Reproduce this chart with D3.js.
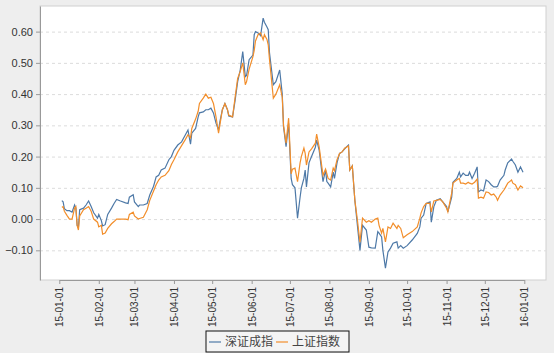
<!DOCTYPE html>
<html lang="zh-CN">
<head>
    <meta charset="UTF-8">
    <title>深证成指 / 上证指数</title>
    <style>
        body {
            margin: 0;
            padding: 0;
            background-color: #eeeeee;
            font-family: 'Liberation Sans', Arial, sans-serif;
        }
        svg { display: block; }
        .grid line { stroke: #dcdcdc; stroke-dasharray: 3,3; }
        .grid .domain { display: none; }
        .axis text { fill: #333; }
        .axis line, .axis path { stroke: #999; }
    </style>
</head>
<body>
    <svg width="554" height="353"></svg>

    <script src="https://d3js.org/d3.v7.min.js"></script>
    <script>
        // 日期
        const dates = [
            "2015-01-03","2015-01-04","2015-01-05","2015-01-07","2015-01-09","2015-01-11","2015-01-13","2015-01-14","2015-01-15","2015-01-16",
            "2015-01-17","2015-01-20","2015-01-22","2015-01-24","2015-01-26","2015-01-28","2015-01-31","2015-02-01","2015-02-03","2015-02-04",
            "2015-02-06","2015-02-08","2015-02-11","2015-02-13","2015-02-15","2015-02-18","2015-02-22","2015-02-24","2015-02-25","2015-02-28",
            "2015-03-01","2015-03-04","2015-03-05","2015-03-08","2015-03-11","2015-03-13","2015-03-16","2015-03-18","2015-03-20","2015-03-22",
            "2015-03-25","2015-03-28","2015-03-30","2015-04-01","2015-04-04","2015-04-07","2015-04-10","2015-04-12","2015-04-14","2015-04-15",
            "2015-04-18","2015-04-20","2015-04-21","2015-04-24","2015-04-26","2015-04-28","2015-04-30","2015-05-02","2015-05-04","2015-05-06",
            "2015-05-07","2015-05-09","2015-05-11","2015-05-13","2015-05-14","2015-05-17","2015-05-19","2015-05-21","2015-05-23","2015-05-25",
            "2015-05-27","2015-05-28","2015-05-30","2015-06-02","2015-06-03","2015-06-04","2015-06-06","2015-06-08","2015-06-10","2015-06-11",
            "2015-06-13","2015-06-14","2015-06-15","2015-06-18","2015-06-20","2015-06-23","2015-06-25","2015-06-26","2015-06-28","2015-06-30",
            "2015-07-02","2015-07-03","2015-07-05","2015-07-07","2015-07-09","2015-07-10","2015-07-12","2015-07-13","2015-07-14","2015-07-16",
            "2015-07-18","2015-07-21","2015-07-22","2015-07-24","2015-07-27","2015-07-29","2015-07-30","2015-07-31","2015-08-02","2015-08-04",
            "2015-08-05","2015-08-07","2015-08-09","2015-08-11","2015-08-13","2015-08-16","2015-08-17","2015-08-19","2015-08-21","2015-08-23",
            "2015-08-25","2015-08-27","2015-08-30","2015-09-01","2015-09-03","2015-09-06","2015-09-08","2015-09-09","2015-09-11","2015-09-12",
            "2015-09-14","2015-09-16","2015-09-18","2015-09-20","2015-09-23","2015-09-24","2015-09-26","2015-09-28","2015-10-01","2015-10-05",
            "2015-10-09","2015-10-11","2015-10-12","2015-10-14","2015-10-16","2015-10-19","2015-10-20","2015-10-22","2015-10-24","2015-10-27",
            "2015-10-29","2015-11-01","2015-11-02","2015-11-05","2015-11-06","2015-11-09","2015-11-11","2015-11-12","2015-11-14","2015-11-16",
            "2015-11-18","2015-11-19","2015-11-21","2015-11-23","2015-11-25","2015-11-26","2015-11-28","2015-11-30","2015-12-02","2015-12-04",
            "2015-12-06","2015-12-08","2015-12-10","2015-12-11","2015-12-13","2015-12-16","2015-12-17","2015-12-19","2015-12-22","2015-12-23",
            "2015-12-25","2015-12-27","2015-12-29","2015-12-31"
        ];

        // 深证成指
        const szValues = [
            0.059,0.055,0.033,0.027,0.027,0.022,0.045,0.035,-0.02,-0.028,
            0.03,0.035,0.045,0.058,0.04,0.02,0.003,0.015,-0.005,-0.022,
            -0.018,0.015,0.035,0.05,0.063,0.058,0.052,0.05,0.07,0.078,
            0.055,0.04,0.045,0.045,0.05,0.077,0.105,0.135,0.14,0.157,
            0.163,0.19,0.2,0.22,0.237,0.247,0.27,0.285,0.24,0.275,
            0.29,0.327,0.34,0.343,0.35,0.35,0.355,0.34,0.307,0.285,
            0.31,0.35,0.37,0.35,0.33,0.327,0.38,0.44,0.477,0.536,
            0.456,0.46,0.51,0.525,0.59,0.6,0.596,0.587,0.643,0.63,
            0.615,0.606,0.532,0.43,0.44,0.477,0.40,0.296,0.232,0.307,
            0.13,0.11,0.1,0.003,0.07,0.1,0.13,0.157,0.103,0.18,
            0.2,0.23,0.253,0.22,0.12,0.157,0.12,0.115,0.103,0.15,
            0.13,0.18,0.21,0.215,0.225,0.237,0.157,0.17,0.06,-0.02,
            -0.1,-0.02,-0.035,-0.09,-0.092,-0.093,-0.04,-0.045,-0.057,-0.1,
            -0.157,-0.105,-0.093,-0.077,-0.073,-0.093,-0.085,-0.093,-0.085,-0.067,
            -0.046,-0.025,0.003,0.013,0.05,0.055,-0.01,0.04,0.06,0.065,
            0.055,0.04,0.023,0.07,0.118,0.13,0.15,0.135,0.147,0.14,
            0.14,0.15,0.13,0.147,0.167,0.087,0.093,0.09,0.125,0.12,
            0.11,0.103,0.103,0.105,0.125,0.14,0.157,0.18,0.192,0.185,
            0.173,0.15,0.167,0.15
        ];

        // 上证指数
        const shValues = [
            0.038,0.04,0.025,0.012,0.0,0.0,0.035,0.04,-0.02,-0.035,
            0.01,0.03,0.035,0.04,0.025,0.0,-0.01,-0.025,-0.02,-0.048,
            -0.045,-0.03,-0.015,-0.008,0.0,0.0,0.0,-0.002,0.015,0.022,
            0.01,0.0,0.002,0.006,0.03,0.06,0.09,0.11,0.125,0.135,
            0.14,0.155,0.175,0.19,0.215,0.235,0.255,0.27,0.26,0.29,
            0.32,0.345,0.37,0.387,0.4,0.387,0.39,0.37,0.327,0.275,
            0.3,0.35,0.37,0.35,0.333,0.327,0.39,0.45,0.472,0.5,
            0.43,0.44,0.48,0.52,0.54,0.57,0.59,0.596,0.574,0.59,
            0.575,0.558,0.51,0.387,0.40,0.43,0.39,0.30,0.243,0.323,
            0.145,0.16,0.163,0.12,0.18,0.2,0.227,0.21,0.173,0.215,
            0.225,0.243,0.272,0.23,0.14,0.16,0.145,0.13,0.125,0.163,
            0.155,0.19,0.21,0.215,0.227,0.234,0.157,0.17,0.06,-0.003,
            -0.074,0.003,-0.01,-0.005,-0.01,0.0,0.003,-0.02,-0.045,-0.03,
            -0.073,-0.025,-0.03,-0.013,-0.03,-0.02,-0.03,-0.06,-0.05,-0.04,
            -0.025,0.003,0.02,0.04,0.05,0.05,0.023,0.058,0.06,0.063,
            0.055,0.035,0.023,0.083,0.115,0.125,0.13,0.115,0.115,0.112,
            0.118,0.115,0.112,0.118,0.128,0.067,0.07,0.067,0.087,0.085,
            0.077,0.08,0.07,0.06,0.077,0.093,0.1,0.115,0.125,0.115,
            0.11,0.093,0.106,0.1
        ];

        const seriesNames = ["深证成指", "上证指数"];
        const seriesColors = ["#4e79a7", "#f28e2b"];
        const yTicks = [-0.1, 0.0, 0.1, 0.2, 0.3, 0.4, 0.5, 0.6];

        const parseDate = d3.timeParse("%Y-%m-%d");
        const series = [szValues, shValues].map((vals, k) => ({
            name: seriesNames[k],
            color: seriesColors[k],
            values: dates.map((d, i) => ({ date: parseDate(d), value: vals[i] }))
        }));

        const svg = d3.select("svg");
        const margin = { top: 6, right: 8, bottom: 73, left: 40 };
        const width = 554 - margin.left - margin.right;
        const height = 353 - margin.top - margin.bottom;

        const g = svg.append("g")
            .attr("transform", `translate(${margin.left},${margin.top})`);

        // 坐标比例尺
        const x = d3.scaleTime()
            .domain([new Date(2015, 0, 1), new Date(2016, 0, 1)])
            .range([19.3, 484.3]);

        const y = d3.scaleLinear()
            .domain([-0.195, 0.682])
            .range([height, 0]);

        // 绘图区背景
        g.append("rect")
            .attr("width", width)
            .attr("height", height)
            .attr("fill", "#fff")
            .attr("stroke", "#d0d0d0");

        // 网格线
        g.append("g")
            .attr("class", "grid")
            .call(d3.axisLeft(y).tickValues(yTicks).tickSize(-width).tickFormat(""));

        // 折线
        const line = d3.line()
            .x(d => x(d.date))
            .y(d => y(d.value));

        g.selectAll(".series")
            .data(series)
            .enter().append("path")
            .attr("class", "series")
            .attr("fill", "none")
            .attr("stroke", d => d.color)
            .attr("stroke-width", 1.2)
            .attr("d", d => line(d.values));

        // y 轴
        g.append("g")
            .attr("class", "axis")
            .call(d3.axisLeft(y).tickValues(yTicks).tickSize(4).tickSizeOuter(0).tickFormat(d3.format(".2f")))
            .call(a => a.selectAll("text").attr("font-size", 11).attr("font-family", "'Liberation Sans', Arial, sans-serif"));

        // x 轴
        g.append("g")
            .attr("class", "axis")
            .attr("transform", `translate(0,${height})`)
            .call(d3.axisBottom(x).ticks(d3.timeMonth.every(1)).tickSize(4).tickSizeOuter(0).tickFormat(d3.timeFormat("%y-%m-%d")))
            .call(a => a.selectAll("text")
                .attr("font-size", 10)
                .attr("font-family", "'Liberation Sans', Arial, sans-serif")
                .attr("text-anchor", "end")
                .attr("transform", "rotate(-90)")
                .attr("x", -7)
                .attr("y", 0)
                .attr("dy", "0.35em"));

        // 图例
        const legend = svg.append("g").attr("transform", "translate(206,331)");
        legend.append("rect")
            .attr("width", 143)
            .attr("height", 21)
            .attr("fill", "#f4f4f4")
            .attr("stroke", "#111");

        const item = legend.selectAll(".item")
            .data(series)
            .enter().append("g")
            .attr("transform", (d, i) => `translate(${3 + i * 67},11)`);

        item.append("line")
            .attr("x1", 0).attr("x2", 12)
            .attr("stroke", d => d.color)
            .attr("stroke-width", 1.2);

        item.append("text")
            .attr("x", 16)
            .attr("dy", "0.35em")
            .attr("font-size", 12)
            .attr("font-family", "'Noto Sans CJK SC', sans-serif")
            .attr("fill", "#444")
            .text(d => d.name);
    </script>
</body>
</html>
